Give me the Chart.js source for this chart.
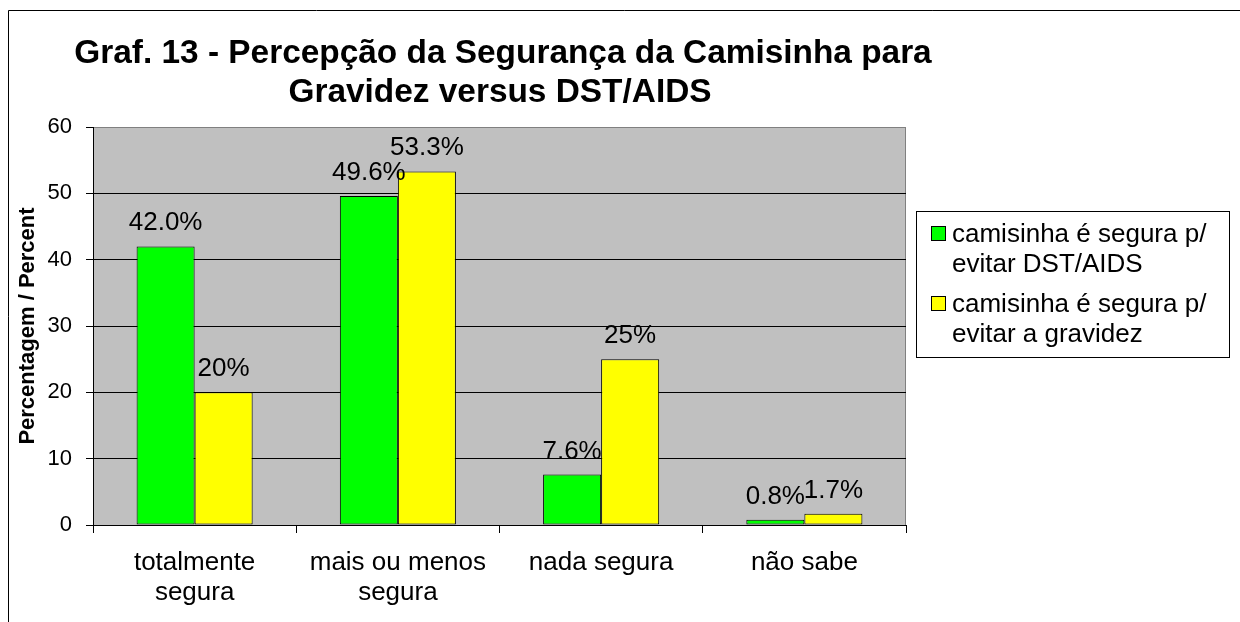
<!DOCTYPE html>
<html>
<head>
<meta charset="utf-8">
<script src="https://cdn.jsdelivr.net/npm/chart.js@4/dist/chart.umd.min.js"></script>
<style>
  html, body { margin: 0; padding: 0; background: #fff; }
  #wrap { width: 1240px; height: 622px; position: relative; }
</style>
</head>
<body>
<div id="wrap"><canvas id="c" width="1240" height="622"></canvas></div>
<script>
const titleLines = ['Graf. 13 - Percepção da Segurança da Camisinha para', 'Gravidez versus DST/AIDS'];
const categories = [['totalmente', 'segura'], ['mais ou menos', 'segura'], 'nada segura', 'não sabe'];
const seriesNames = ['camisinha é segura p/ evitar DST/AIDS', 'camisinha é segura p/ evitar a gravidez'];
const legendLines = [['camisinha é segura p/', 'evitar DST/AIDS'], ['camisinha é segura p/', 'evitar a gravidez']];
const dstValues = [42.0, 49.6, 7.6, 0.8];
const gravidezValues = [20, 53.3, 25, 1.7];
const dstLabels = ['42.0%', '49.6%', '7.6%', '0.8%'];
const gravidezLabels = ['20%', '53.3%', '25%', '1.7%'];
const yTicks = [0, 10, 20, 30, 40, 50, 60];
const yAxisTitle = 'Percentagem / Percent';
const seriesColors = ['#00FF00', '#FFFF00'];
const valueLabels = [dstLabels, gravidezLabels];

const FONT = "'Liberation Sans', Arial, Helvetica, sans-serif";
Chart.defaults.font.family = FONT;
Chart.defaults.color = '#000';

const decor = {
  id: 'decor',
  beforeDraw(chart) {
    const {ctx, chartArea: a} = chart;
    ctx.save();
    ctx.fillStyle = '#fff';
    ctx.fillRect(0, 0, chart.width, chart.height);
    // outer frame
    ctx.strokeStyle = '#000';
    ctx.lineWidth = 1;
    ctx.beginPath();
    ctx.moveTo(8.5, chart.height + 2);
    ctx.lineTo(8.5, 10.5);
    ctx.lineTo(chart.width + 2, 10.5);
    ctx.stroke();
    // plot background
    ctx.fillStyle = '#C0C0C0';
    ctx.fillRect(a.left, a.top, a.right - a.left, a.bottom - a.top);
    // right border of plot area
    ctx.strokeStyle = '#808080';
    ctx.beginPath();
    ctx.moveTo(a.right - 0.5, a.top);
    ctx.lineTo(a.right - 0.5, a.bottom);
    ctx.stroke();
    // title
    ctx.fillStyle = '#000';
    ctx.font = 'bold 33.4px ' + FONT;
    ctx.textAlign = 'center';
    ctx.textBaseline = 'alphabetic';
    ctx.fillText(titleLines[0], 503, 63);
    ctx.fillText(titleLines[1], 500, 102);
    // legend
    const lx = 916, ly = 211, lw = 313, lh = 146;
    ctx.fillStyle = '#fff';
    ctx.fillRect(lx, ly, lw, lh);
    ctx.strokeStyle = '#000';
    ctx.strokeRect(lx + 0.5, ly + 0.5, lw, lh);
    ctx.font = '26px ' + FONT;
    ctx.textAlign = 'left';
    chart.data.datasets.forEach((ds, i) => {
      const top = 226 + i * 70;
      ctx.fillStyle = ds.backgroundColor;
      ctx.fillRect(931, top, 15, 15);
      ctx.strokeStyle = '#000';
      ctx.strokeRect(931.5, top + 0.5, 14, 14);
      ctx.fillStyle = '#000';
      legendLines[i].forEach((t, j) => ctx.fillText(t, 952, top + 16 + j * 30));
    });
    ctx.restore();
  },
  afterDatasetsDraw(chart) {
    const {ctx} = chart;
    ctx.save();
    ctx.font = '26px ' + FONT;
    ctx.fillStyle = '#000';
    ctx.textAlign = 'center';
    ctx.textBaseline = 'alphabetic';
    chart.data.datasets.forEach((ds, i) => {
      const meta = chart.getDatasetMeta(i);
      meta.data.forEach((bar, j) => {
        ctx.fillText(valueLabels[i][j], bar.x, bar.y - 16);
      });
    });
    ctx.restore();
  }
};

new Chart(document.getElementById('c'), {
  type: 'bar',
  data: {
    labels: categories,
    datasets: [
      { label: seriesNames[0], data: dstValues, backgroundColor: seriesColors[0], borderColor: '#000', borderWidth: 1, borderSkipped: false },
      { label: seriesNames[1], data: gravidezValues, backgroundColor: seriesColors[1], borderColor: '#000', borderWidth: 1, borderSkipped: false }
    ]
  },
  options: {
    responsive: false,
    animation: false,
    devicePixelRatio: 1,
    layout: { padding: { top: 127, right: 334, bottom: 0, left: 0 } },
    datasets: { bar: { categoryPercentage: 0.571, barPercentage: 1.0 } },
    plugins: { legend: { display: false }, title: { display: false }, tooltip: { enabled: false } },
    scales: {
      x: {
        afterFit(s) { s.height = 97; },
        grid: { display: true, drawOnChartArea: false, drawTicks: true, tickLength: 8, color: '#000', offset: true },
        border: { display: true, color: '#000', width: 1 },
        ticks: { font: { size: 26, lineHeight: 1.15 }, color: '#000', padding: 15, maxRotation: 0, autoSkip: false }
      },
      y: {
        min: 0, max: 60,
        afterFit(s) { s.width = 93; },
        afterBuildTicks(s) { s.ticks = yTicks.map(v => ({ value: v })); },
        grid: {
          color: c => (c.tick && c.tick.value === 60) ? '#808080' : '#000',
          tickColor: '#000', tickLength: 7, lineWidth: 1
        },
        border: { display: true, color: '#000', width: 1 },
        ticks: { font: { size: 22 }, color: '#000', padding: 14 },
        title: { display: true, text: yAxisTitle, font: { size: 22, weight: 'bold' }, color: '#000', padding: { top: 15, bottom: 0 } }
      }
    }
  },
  plugins: [decor]
});
</script>
</body>
</html>
